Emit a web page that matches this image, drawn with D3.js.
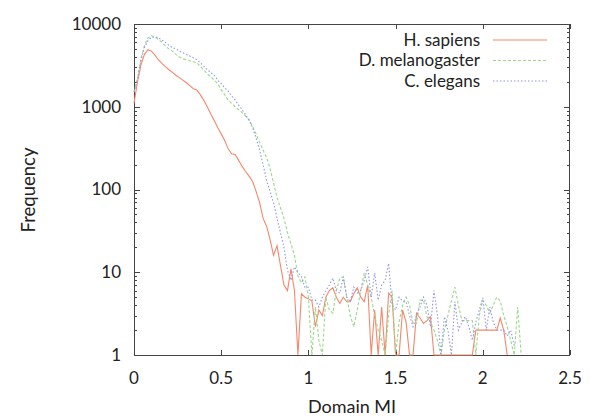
<!DOCTYPE html>
<html><head><meta charset="utf-8">
<script src="https://cdn.jsdelivr.net/npm/d3@7"></script>
<style>body{margin:0;background:#fff}svg{display:block}text{font-family:Lato,"Open Sans",sans-serif;fill:#222}</style>
</head><body><svg id="c" width="600" height="420"></svg>
<script>
const miBins = [0,0.02,0.04,0.06,0.08,0.10,0.12,0.14,0.16,0.18,0.20,0.22,0.24,0.26,0.28,0.30,0.32,0.34,0.36,0.38,
0.40,0.42,0.44,0.46,0.48,0.50,0.52,0.54,0.56,0.58,0.60,0.62,0.64,0.66,0.68,0.70,0.72,0.74,0.76,0.78,
0.80,0.82,0.84,0.86,0.88,0.90,0.92,0.94,0.96,0.98,1.00,1.02,1.04,1.06,1.08,1.10,1.12,1.14,1.16,1.18,
1.20,1.22,1.24,1.26,1.28,1.30,1.32,1.34,1.36,1.38,1.40,1.42,1.44,1.46,1.48,1.50,1.52,1.54,1.56,1.58,
1.60,1.62,1.64,1.66,1.68,1.70,1.72,1.74,1.76,1.78,1.80,1.82,1.84,1.86,1.88,1.90,1.92,1.94,1.96,1.98,
2.00,2.02,2.04,2.06,2.08,2.10,2.12,2.14,2.16,2.18,2.20,2.22];

const hSapiens = [1100,2000,3200,4300,4900,4700,4200,3700,3350,3050,2800,2600,2400,2250,2100,1950,1800,1650,1600,1400,
1200,1000,820,680,560,470,390,310,270,265,225,190,165,145,125,95,70,45,36,25,
16,21,12,7,6,11,6,1,5.5,5,4.8,4.5,2.2,3.5,3,5,6,6.5,5,4.2,
5,4.4,4.4,5.5,6.5,5,4.4,7,1,3.5,1,3.8,1,5.6,5,1,1,3.5,2.5,1,
1,3.2,2.8,2.4,2.6,2.9,1,1,1,1,1,1,1,1,1,1,1,1,2,2,
2,2,2,2,2,2.8,2,1];

const dMelanogaster = [1500,2200,3800,5500,6800,7200,7000,6500,6000,5400,5000,4700,4300,4000,3800,3700,3600,3500,3400,3100,
2800,2500,2300,2100,1900,1600,1400,1200,1100,1000,920,850,770,690,580,470,370,300,245,180,
120,80,60,45,30,22,16,9,7.4,8.8,5,1,3.8,1.5,1,5,3.5,3.2,6,8.5,
8.8,5,3,2.2,3.5,6,9.8,7,5,3,2,1.5,1,3,6,1,2.5,4,5,4,
2.4,2.4,4.6,4.6,2.9,2.5,2,1.5,1,2,3,4.5,6.6,4,2.6,2.6,2.6,2.6,1,3,
4.6,4,3.2,4,5,4.5,3,2.2,1.5,1,3.8,1];

const cElegans = [1500,2100,3600,5200,6300,6900,7000,6800,6400,6000,5500,5200,5000,4700,4500,4300,4100,3900,3700,3400,
3100,2800,2600,2400,2100,1900,1700,1550,1350,1200,1050,920,800,690,560,420,300,200,130,95,
69,45,30,20,10.6,8,11.6,10,8.8,6.6,6.6,4.6,4.6,3.8,5,6,7,8.5,6,5.6,
8.8,5,4.4,6.6,5.6,6,8,11.6,5,9.8,4.6,7,8,12.8,4,3.5,5,4.5,4.4,3,
2.2,3,3.8,5,4,2.2,6,3,1,2.9,2,1,4.4,2,2.5,2.9,2.2,1.5,2.5,3.5,
4.9,2,3.8,2.5,2,2,2,1.7,2,1.3];

const seriesNames = ["H. sapiens","D. melanogaster","C. elegans"];
const seriesColors = ["#f5876b","#9cd78a","#9393e8"];
const seriesDash = [null,"3,2","1.5,2"];
const xTicks = [0,0.5,1,1.5,2,2.5];
const yTicks = [1,10,100,1000,10000];

const svg = d3.select("#c");
const L=134,R=570,T=24,B=355;
const x = d3.scaleLinear().domain([0,2.5]).range([L,R]);
const y = d3.scaleLog().domain([1,10000]).range([B,T]);

const minor=[];
for(let d=1; d<10000; d*=10) for(let k=2;k<10;k++) minor.push(d*k);

const ax = svg.append("g").attr("stroke","#444").attr("stroke-width",1);
[["l",L,1],["r",R,-1]].forEach(([n,px,dir])=>{
  yTicks.forEach(v=>ax.append("line").attr("x1",px).attr("x2",px+dir*6).attr("y1",Math.round(y(v))+0.5).attr("y2",Math.round(y(v))+0.5));
  minor.forEach(v=>ax.append("line").attr("x1",px).attr("x2",px+dir*3).attr("y1",Math.round(y(v))+0.5).attr("y2",Math.round(y(v))+0.5));
});
[[B,-1],[T,1]].forEach(([py,dir])=>{
  xTicks.forEach(v=>ax.append("line").attr("x1",Math.round(x(v))+0.5).attr("x2",Math.round(x(v))+0.5).attr("y1",py).attr("y2",py+dir*5));
});
svg.append("rect").attr("x",L+0.5).attr("y",T+0.5).attr("width",R-L-1).attr("height",B-T).attr("fill","none").attr("stroke","#444");

svg.append("g").selectAll("text").data(yTicks).join("text")
  .attr("x",121).attr("y",d=>y(d)).attr("dy","0.35em").attr("text-anchor","end")
  .attr("font-size",17).text(d=>d);
svg.append("g").selectAll("text").data(xTicks).join("text")
  .attr("x",d=>x(d)).attr("y",378).attr("dy","0.35em").attr("text-anchor","middle")
  .attr("font-size",17).text(d=>d);
svg.append("text").attr("x",(L+R)/2).attr("y",407).attr("dy","0.35em").attr("text-anchor","middle").attr("font-size",18).text("Domain MI");
svg.append("text").attr("transform","translate(29,190) rotate(-90)").attr("dy","0.35em").attr("text-anchor","middle").attr("font-size",18.5).text("Frequency");

const allData=[hSapiens,dMelanogaster,cElegans];
const line = d3.line().x((d,i)=>x(miBins[i])).y(d=>y(d));
const plot = svg.append("g");
allData.forEach((vals,k)=>{
  plot.append("path").datum(vals).attr("d",line).attr("fill","none")
    .attr("stroke",seriesColors[k]).attr("stroke-width",1.1)
    .attr("stroke-dasharray",seriesDash[k]);
});

const lg = svg.append("g");
seriesNames.forEach((n,k)=>{
  const cy = 40 + k*20.5;
  lg.append("text").attr("x",480).attr("y",cy).attr("dy","0.35em").attr("text-anchor","end").attr("font-size",17).text(n);
  lg.append("line").attr("x1",493).attr("x2",547).attr("y1",cy).attr("y2",cy)
    .attr("stroke",seriesColors[k]).attr("stroke-width",1.1).attr("stroke-dasharray",seriesDash[k]);
});
</script></body></html>
